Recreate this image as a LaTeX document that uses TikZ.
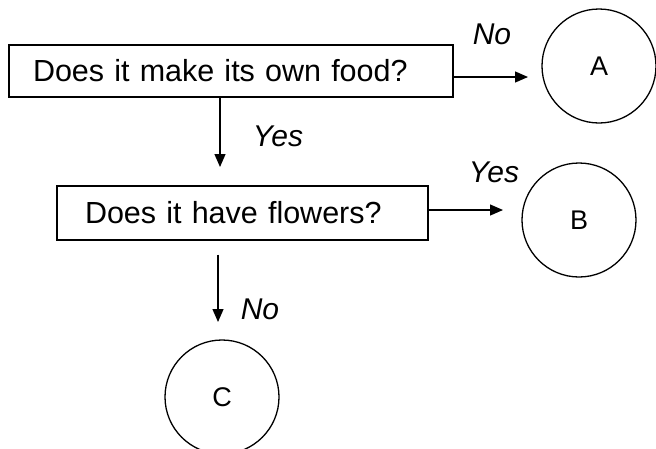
\documentclass[tikz,border=0pt]{standalone}
\usepackage{fontspec}
\setmainfont{Liberation Sans}
\usetikzlibrary{arrows.meta}
\begin{document}
\begin{tikzpicture}[x=1pt,y=-1pt,
  qbox/.style={draw, line width=1.3pt, rectangle, inner ysep=0pt, align=left,
    font=\fontsize{30.5}{36}\selectfont},
  leaf/.style={draw, circle, line width=1.3pt, minimum size=114pt, inner sep=0pt},
  leaftext/.style={font=\fontsize{27}{32}\selectfont},
  lbl/.style={inner sep=0pt, font=\fontsize{30}{36}\selectfont\itshape},
  arr/.style={line width=1.3pt, -{Triangle[length=13pt,width=11pt]}}
]
\useasboundingbox (0,0) rectangle (656,448);

\node[qbox, text width=396pt, inner xsep=24pt, minimum height=52pt] (q1) at (231,71) {Does it make its own food?};
\node[qbox, text width=315pt, inner xsep=28pt, minimum height=54pt] (q2) at (242.5,213) {Does it have flowers?};

\node[leaf, leaftext] (A) at (599,66) {A};
\node[leaf, leaftext] (B) at (579,220) {B};
\node[leaf, leaftext] (C) at (222,397) {C};

\coordinate (a1) at (528,77);
\coordinate (a2) at (220,167);
\coordinate (a3) at (503,210);
\coordinate (a4) at (218,322);

\draw[arr] (q1.east |- a1) -- (a1);
\draw[arr] (q1.south -| a2) -- (a2);
\draw[arr] (q2.east |- a3) -- (a3);
\draw[arr, shorten <=14pt] (q2.south -| a4) -- (a4);

\node[lbl] (l1) at (492,34) {No};
\node[lbl] (l2) at (278,136) {Yes};
\node[lbl] (l3) at (494,172) {Yes};
\node[lbl] (l4) at (260,309) {No};
\end{tikzpicture}
\end{document}
